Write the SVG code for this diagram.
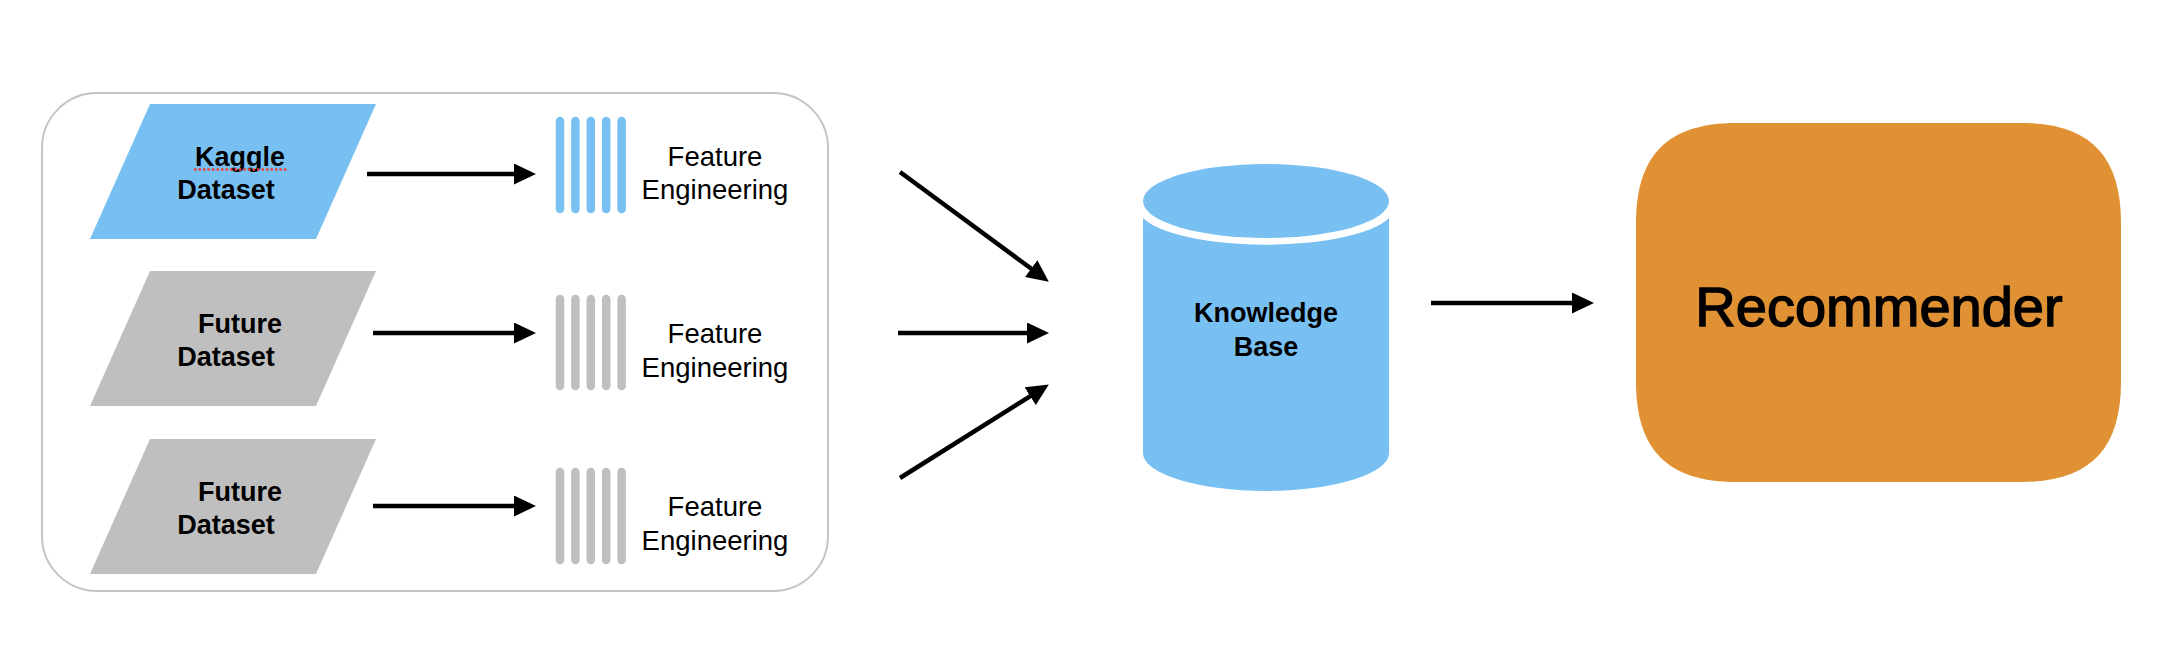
<svg xmlns="http://www.w3.org/2000/svg" width="2174" height="656" viewBox="0 0 2174 656">
<style>
.lbl{font-family:"Liberation Sans",Arial,sans-serif;font-weight:bold;font-size:27px;fill:#000;text-anchor:middle}
.fe{font-family:"Liberation Sans",Arial,sans-serif;font-size:27.5px;fill:#000;text-anchor:middle}
.rec{font-family:"Liberation Sans",Arial,sans-serif;font-size:56px;fill:#000;stroke:#000;stroke-width:1.4;text-anchor:middle}
.blue{fill:#79C0F2}
.gray{fill:#BFBFBF}
.barb{stroke:#79C0F2;stroke-width:8.5;stroke-linecap:round}
.barg{stroke:#BFBFBF;stroke-width:8.5;stroke-linecap:round}
.conn{stroke:#000;stroke-width:4.5;fill:none;marker-end:url(#ah)}
</style>
<defs>
<marker id="ah" markerUnits="userSpaceOnUse" markerWidth="22" markerHeight="21" viewBox="0 0 22 21" refX="13" refY="10.5" orient="auto">
<path d="M0,0 L22,10.5 L0,21 Z" fill="#000"/>
</marker>
</defs>
<rect width="2174" height="656" fill="#fff"/>
<g id="container">
<rect x="42" y="93" width="786" height="498" rx="55" ry="55" fill="#fff" stroke="#C4C4C4" stroke-width="2"/>
</g>
<g id="kaggle-dataset">
<polygon class="blue" points="150,104 376,104 316,239 90,239"/>
<text class="lbl" x="240" y="166">Kaggle</text>
<line x1="194" y1="169.5" x2="287" y2="169.5" stroke="#E8453C" stroke-width="2.5" stroke-dasharray="2.5,2"/>
<text class="lbl" x="226" y="199">Dataset</text>
</g>
<g id="future-dataset-1">
<polygon class="gray" points="150,271 376,271 316,406 90,406"/>
<text class="lbl" x="240" y="333">Future</text>
<text class="lbl" x="226" y="366">Dataset</text>
</g>
<g id="future-dataset-2">
<polygon class="gray" points="150,439 376,439 316,574 90,574"/>
<text class="lbl" x="240" y="501">Future</text>
<text class="lbl" x="226" y="534">Dataset</text>
</g>
<g id="feature-engineering-1">
<line class="barb" x1="560" y1="121" x2="560" y2="209"/>
<line class="barb" x1="575.4" y1="121" x2="575.4" y2="209"/>
<line class="barb" x1="590.8" y1="121" x2="590.8" y2="209"/>
<line class="barb" x1="606.2" y1="121" x2="606.2" y2="209"/>
<line class="barb" x1="621.6" y1="121" x2="621.6" y2="209"/>
<text class="fe" x="715" y="166">Feature</text>
<text class="fe" x="715" y="199">Engineering</text>
</g>
<g id="feature-engineering-2">
<line class="barg" x1="560" y1="299" x2="560" y2="386"/>
<line class="barg" x1="575.4" y1="299" x2="575.4" y2="386"/>
<line class="barg" x1="590.8" y1="299" x2="590.8" y2="386"/>
<line class="barg" x1="606.2" y1="299" x2="606.2" y2="386"/>
<line class="barg" x1="621.6" y1="299" x2="621.6" y2="386"/>
<text class="fe" x="715" y="343">Feature</text>
<text class="fe" x="715" y="377">Engineering</text>
</g>
<g id="feature-engineering-3">
<line class="barg" x1="560" y1="472" x2="560" y2="560"/>
<line class="barg" x1="575.4" y1="472" x2="575.4" y2="560"/>
<line class="barg" x1="590.8" y1="472" x2="590.8" y2="560"/>
<line class="barg" x1="606.2" y1="472" x2="606.2" y2="560"/>
<line class="barg" x1="621.6" y1="472" x2="621.6" y2="560"/>
<text class="fe" x="715" y="516">Feature</text>
<text class="fe" x="715" y="550">Engineering</text>
</g>
<g id="knowledge-base">
<path class="blue" d="M1143,218 A128,37 0 0 0 1389,218 L1389,453 A123,38 0 0 1 1143,453 Z"/>
<ellipse class="blue" cx="1266" cy="201" rx="123" ry="37"/>
<text class="lbl" x="1266" y="322">Knowledge</text>
<text class="lbl" x="1266" y="356">Base</text>
</g>
<g id="recommender">
<path fill="#E09134" d="M1736,123 L2021,123 C2089,123 2121,155 2121,223 L2121,382 C2121,450 2089,482 2021,482 L1736,482 C1668,482 1636,450 1636,382 L1636,223 C1636,155 1668,123 1736,123 Z"/>
<text class="rec" x="1879" y="326">Recommender</text>
</g>
<g id="connectors">
<line class="conn" x1="367" y1="174" x2="527" y2="174"/>
<line class="conn" x1="373" y1="333" x2="527" y2="333"/>
<line class="conn" x1="373" y1="506" x2="527" y2="506"/>
<line class="conn" x1="900" y1="172" x2="1041.6" y2="276.3"/>
<line class="conn" x1="898" y1="333" x2="1040" y2="333"/>
<line class="conn" x1="900" y1="478" x2="1041.2" y2="389.3"/>
<line class="conn" x1="1431" y1="303" x2="1585" y2="303"/>
</g>
</svg>
